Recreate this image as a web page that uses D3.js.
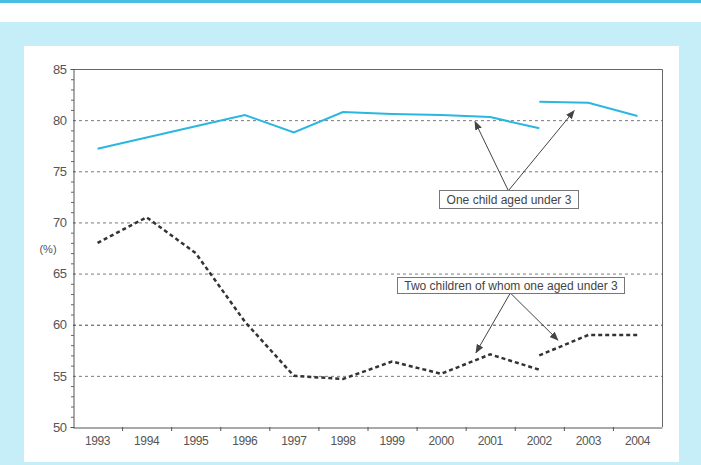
<!DOCTYPE html>
<html>
<head>
<meta charset="utf-8">
<title>Employment rate of mothers</title>
<script src="https://d3js.org/d3.v7.min.js"></script>
<style>
  body { margin: 0; background: #fff; }
  svg { display: block; font-family: "Liberation Sans", Arial, sans-serif; }
</style>
</head>
<body>
<script>
// years on the x axis
const years = ["1993","1994","1995","1996","1997","1998","1999","2000","2001","2002","2003","2004"];

// one child aged under 3 (old series up to 2002, new series from 2002)
const oneChildOld = [77.2, 78.3, 79.4, 80.5, 78.8, 80.8, 80.6, 80.5, 80.3, 79.2, null, null];
const oneChildNew = [null, null, null, null, null, null, null, null, null, 81.8, 81.7, 80.4];

// two children of whom one aged under 3
const twoChildOld = [68.0, 70.5, 67.0, 60.3, 55.0, 54.7, 56.4, 55.2, 57.1, 55.6, null, null];
const twoChildNew = [null, null, null, null, null, null, null, null, null, 57.0, 59.0, 59.0];

const yTicks = [50, 55, 60, 65, 70, 75, 80, 85];
const gridValues = [55, 60, 65, 70, 75, 80];

const W = 701, H = 465;
const svg = d3.select("body").append("svg").attr("width", W).attr("height", H);

// page frame
svg.append("rect").attr("x", 0).attr("y", 0).attr("width", W).attr("height", 3).attr("fill", "#48bfe2");
svg.append("rect").attr("x", 0).attr("y", 22).attr("width", W).attr("height", H - 22).attr("fill", "#c6eef9");
svg.append("rect").attr("x", 24).attr("y", 46).attr("width", 655).attr("height", 416).attr("fill", "#fff");

const plot = {left: 73, right: 662, top: 69, bottom: 427};

const x = d3.scaleBand().domain(years).range([plot.left, plot.right]).paddingInner(0).paddingOuter(0);
const y = d3.scaleLinear().domain([50, 85]).range([plot.bottom, plot.top]);
const cx = d => x(d) + x.bandwidth() / 2;
// fractional year position for annotation anchors
const xf = v => x(years[0]) + x.bandwidth() / 2 + (v - 1993) * x.bandwidth();

// gridlines
svg.append("g").selectAll("line").data(gridValues).join("line")
  .attr("x1", plot.left).attr("x2", plot.right)
  .attr("y1", d => y(d) + 0.5).attr("y2", d => y(d) + 0.5)
  .attr("stroke", d => d === 60 ? "#444" : "#7a7a7a")
  .attr("stroke-width", 1)
  .attr("stroke-dasharray", "3,3");

// top and right border
svg.append("path")
  .attr("d", `M${plot.left},${plot.top + 0.5}H${plot.right + 0.5}V${plot.bottom}`)
  .attr("fill", "none").attr("stroke", "#666").attr("stroke-width", 1);

// y axis
const yAxis = svg.append("g").attr("transform", `translate(${plot.left + 0.5},0)`)
  .call(d3.axisLeft(y).tickValues(yTicks).tickSize(3).tickPadding(4));
yAxis.select(".domain").attr("stroke", "#555");
yAxis.selectAll(".tick line").attr("stroke", "#555").attr("x2", 1);
yAxis.selectAll("text").attr("fill", "#555").attr("font-size", 13)
  .style("font-family", "'Liberation Sans', Arial, sans-serif").attr("letter-spacing", "-0.5");
// minor ticks
svg.append("g").selectAll("line").data(d3.range(50, 86).filter(v => v % 5 !== 0)).join("line")
  .attr("x1", plot.left - 2).attr("x2", plot.left + 1)
  .attr("y1", d => y(d) + 0.5).attr("y2", d => y(d) + 0.5)
  .attr("stroke", "#666");

// x axis
const xAxis = svg.append("g").attr("transform", `translate(0,${plot.bottom + 0.5})`)
  .call(d3.axisBottom(x).tickSize(0).tickPadding(9));
xAxis.select(".domain").attr("stroke", "#555");
xAxis.selectAll("text").attr("fill", "#555").attr("font-size", 12)
  .style("font-family", "'Liberation Sans', Arial, sans-serif").attr("letter-spacing", "-0.4");
svg.append("g").selectAll("line").data(years.slice(1)).join("line")
  .attr("x1", d => x(d) + 0.5).attr("x2", d => x(d) + 0.5)
  .attr("y1", plot.bottom).attr("y2", plot.bottom + 4)
  .attr("stroke", "#555");

// unit label
svg.append("text").attr("x", 48).attr("y", 253).attr("text-anchor", "middle")
  .attr("font-size", 11).attr("fill", "#555").text("(%)");

// lines
const line = d3.line().defined((d) => d.v !== null).x(d => cx(d.year)).y(d => y(d.v));
const pack = arr => years.map((yr, i) => ({year: yr, v: arr[i]}));

[oneChildOld, oneChildNew].forEach(s => {
  svg.append("path").datum(pack(s)).attr("d", line)
    .attr("fill", "none").attr("stroke", "#2bb6e0").attr("stroke-width", 2);
});
[twoChildOld, twoChildNew].forEach(s => {
  svg.append("path").datum(pack(s)).attr("d", line)
    .attr("fill", "none").attr("stroke", "#333").attr("stroke-width", 2.5)
    .attr("stroke-dasharray", "4,3");
});

// arrowhead
svg.append("defs").append("marker")
  .attr("id", "arr").attr("viewBox", "0 0 10 10").attr("refX", 9).attr("refY", 5)
  .attr("markerWidth", 9).attr("markerHeight", 9).attr("markerUnits", "userSpaceOnUse")
  .attr("orient", "auto")
  .append("path").attr("d", "M0,1L10,5L0,9z").attr("fill", "#444");

function callout(text, boxX, boxY, w, h, from, tips) {
  const g = svg.append("g");
  tips.forEach(t => {
    g.append("line")
      .attr("x1", xf(from[0])).attr("y1", y(from[1]))
      .attr("x2", xf(t[0])).attr("y2", y(t[1]))
      .attr("stroke", "#444").attr("stroke-width", 1)
      .attr("marker-end", "url(#arr)");
  });
  g.append("rect").attr("x", boxX).attr("y", boxY).attr("width", w).attr("height", h)
    .attr("fill", "#fff").attr("stroke", "#777").attr("stroke-width", 1);
  g.append("text").attr("x", boxX + w / 2).attr("y", boxY + h / 2 + 4)
    .attr("text-anchor", "middle").attr("font-size", 12).attr("fill", "#444")
    .text(text);
}

callout("One child aged under 3", 439.5, 190.5, 139, 18,
  [2001.37, 73.1], [[2000.69, 79.85], [2002.71, 80.92]]);
callout("Two children of whom one aged under 3", 397.5, 277.5, 227, 16,
  [2001.41, 63.1], [[2000.71, 57.27], [2002.38, 58.5]]);
</script>
</body>
</html>
